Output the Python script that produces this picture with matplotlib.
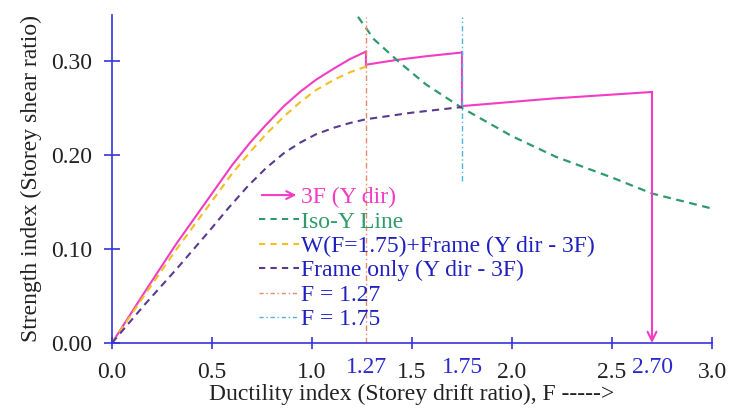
import matplotlib
matplotlib.use("Agg")
import matplotlib.pyplot as plt
from matplotlib.lines import Line2D
from matplotlib.patches import FancyArrowPatch
from matplotlib.legend_handler import HandlerLine2D

plt.rcParams['font.family'] = ['Liberation Serif', 'DejaVu Serif']

# 3F (Y dir) - three branches
f3_a_x = [0.0, 0.16, 0.32, 0.49, 0.6, 0.69, 0.77, 0.86, 0.94, 1.02, 1.11, 1.19, 1.27]
f3_a_y = [0.0, 0.053, 0.105, 0.156, 0.189, 0.213, 0.232, 0.252, 0.267, 0.280, 0.292, 0.302, 0.310]
f3_b_x = [1.27, 1.42, 1.57, 1.75]
f3_b_y = [0.296, 0.301, 0.305, 0.309]
f3_c_x = [1.75, 2.2, 2.70]
f3_c_y = [0.252, 0.260, 0.267]

# Iso-Y line
iso_x = [1.23, 1.31, 1.44, 1.57, 1.75, 2.0, 2.22, 2.5, 2.70, 3.0]
iso_y = [0.347, 0.323, 0.298, 0.275, 0.250, 0.220, 0.198, 0.176, 0.159, 0.143]

# W(F=1.75)+Frame
w_x = [0.0, 0.16, 0.32, 0.49, 0.6, 0.69, 0.77, 0.86, 0.94, 1.02, 1.11, 1.19, 1.27]
w_y = [0.0, 0.050, 0.099, 0.148, 0.180, 0.203, 0.222, 0.241, 0.256, 0.269, 0.280, 0.288, 0.294]

# Frame only
fr_x = [0.0, 0.16, 0.32, 0.49, 0.58, 0.68, 0.77, 0.86, 0.94, 1.02, 1.11, 1.19, 1.27, 1.5, 1.75]
fr_y = [0.0, 0.040, 0.078, 0.120, 0.143, 0.167, 0.186, 0.202, 0.213, 0.222, 0.229, 0.234, 0.238, 0.245, 0.251]

f127 = 1.27
f175 = 1.75
f_end = 2.70
f175_bottom = 0.172
y_top = 0.347

xticks = [0.0, 0.5, 1.0, 1.5, 2.0, 2.5, 3.0]
yticks = [0.0, 0.10, 0.20, 0.30]
special_ticks = [1.27, 1.75, 2.70]

blue = '#3333dd'
magenta = '#f23cc4'
green = '#2f9a6a'
yellow = '#f2c020'
purple = '#5a3a90'
orange = '#e58a6a'
cyan = '#4ab4d8'


class ArrowHandler(HandlerLine2D):
    def create_artists(self, legend, orig_handle, xdescent, ydescent,
                       width, height, fontsize, trans):
        y = height / 2 - ydescent
        arr = FancyArrowPatch((-xdescent, y), (width - xdescent, y),
                              arrowstyle='->', mutation_scale=14,
                              color=magenta, lw=1.5, transform=trans)
        return [arr]


fig = plt.figure(figsize=(7.44, 4.09), dpi=100)
ax = fig.add_axes([0.1505, 0.1614, 0.8065, 0.8022])

ax.plot(f3_a_x, f3_a_y, color=magenta, lw=1.5)
ax.plot([f127, f127], [f3_a_y[-1], f3_b_y[0]], color=magenta, lw=1.5)
ax.plot(f3_b_x, f3_b_y, color=magenta, lw=1.5)
ax.plot([f175, f175], [f3_b_y[-1], f3_c_y[0]], color=magenta, lw=1.5)
ax.plot(f3_c_x, f3_c_y, color=magenta, lw=1.5)
ax.annotate('', xy=(f_end, 0), xytext=(f_end, f3_c_y[-1]),
            arrowprops=dict(arrowstyle='->', color=magenta, lw=1.5,
                            mutation_scale=16, shrinkA=0, shrinkB=0))

ax.plot(iso_x, iso_y, color=green, lw=1.6, dashes=(3.5, 2.5))
ax.plot(w_x, w_y, color=yellow, lw=1.5, dashes=(3.5, 2.5))
ax.plot(fr_x, fr_y, color=purple, lw=1.5, dashes=(3.5, 2.5))
ax.plot([f127, f127], [0, y_top], color=orange, lw=1.0, dashes=(4, 2, 1, 2))
ax.plot([f175, f175], [f175_bottom, y_top], color=cyan, lw=1.0, dashes=(4, 2, 1, 2))

ax.set_xlim(0, 3.0)
ax.set_ylim(0, 0.349)
ax.spines['top'].set_visible(False)
ax.spines['right'].set_visible(False)
ax.spines['left'].set_color(blue)
ax.spines['bottom'].set_color(blue)
ax.spines['left'].set_linewidth(1.2)
ax.spines['bottom'].set_linewidth(1.2)

ax.set_xticks(xticks)
ax.set_xticklabels([f'{v:.1f}' for v in xticks])
ax.set_yticks(yticks)
ax.set_yticklabels([f'{v:.2f}' for v in yticks])
ax.set_xticks(special_ticks, minor=True)
ax.set_xticklabels([f'{v:.2f}' for v in special_ticks], minor=True)
ax.tick_params(axis='x', which='major', direction='inout', length=9, width=1.2,
               color=blue, labelsize=17, labelcolor='#222222', pad=9)
ax.tick_params(axis='y', which='major', direction='inout', length=11, width=1.2,
               color=blue, labelsize=17, labelcolor='#222222', pad=9)
ax.tick_params(axis='x', which='minor', length=0, labelsize=17,
               labelcolor='#2a2acc', pad=10)

ax.set_xlabel('Ductility index (Storey drift ratio), F ----->', fontsize=17,
              color='#222222', labelpad=1)
ax.set_ylabel('Strength index (Storey shear ratio)', fontsize=17,
              color='#222222', labelpad=6)

handles = [
    Line2D([], [], color=magenta),
    Line2D([], [], color=green, lw=1.5, dashes=(3, 2.5)),
    Line2D([], [], color=yellow, lw=1.5, dashes=(3, 2.5)),
    Line2D([], [], color=purple, lw=1.5, dashes=(3, 2.5)),
    Line2D([], [], color=orange, lw=1.0, dashes=(3, 2, 1, 2)),
    Line2D([], [], color=cyan, lw=1.0, dashes=(3, 2, 1, 2)),
]
labels = ['3F (Y dir)', 'Iso-Y Line', 'W(F=1.75)+Frame (Y dir - 3F)',
          'Frame only (Y dir - 3F)', 'F = 1.27', 'F = 1.75']
leg = ax.legend(handles, labels, loc='upper left', bbox_to_anchor=(0.245, 0.476),
                frameon=False, fontsize=17, handlelength=1.7, handletextpad=0.1,
                labelspacing=0.12, borderpad=0, borderaxespad=0,
                handler_map={handles[0]: ArrowHandler()})
text_colors = [magenta, green, '#2020c0', '#2020c0', '#2020c0', '#2020c0']
for t, c in zip(leg.get_texts(), text_colors):
    t.set_color(c)

fig.savefig('out.png', dpi=100)
